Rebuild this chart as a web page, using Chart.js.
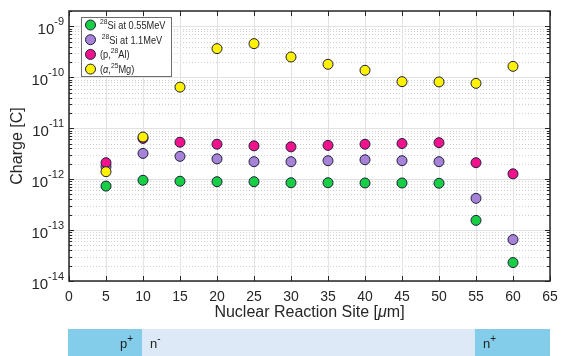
<!DOCTYPE html>
<html>
<head>
<meta charset="utf-8">
<script src="https://cdn.jsdelivr.net/npm/chart.js@4.4.0/dist/chart.umd.min.js"></script>
<style>
  html, body { margin: 0; padding: 0; background: #fff; }
  #wrap { width: 562px; height: 356px; }
</style>
</head>
<body>
<div id="wrap"><canvas id="chargeChart" width="562" height="356"></canvas></div>
<script>
// reaction sites along the device depth (um)
const sites = [5, 10, 15, 20, 25, 30, 35, 40, 45, 50, 55, 60];

// collected charge (C)
const si055 = [7.3e-13, 9.5e-13, 9.1e-13, 8.9e-13, 8.9e-13, 8.5e-13, 8.5e-13, 8.4e-13, 8.4e-13, 8.3e-13, 1.55e-13, 2.3e-14];
const si11  = [1.75e-12, 3.2e-12, 2.8e-12, 2.5e-12, 2.2e-12, 2.2e-12, 2.3e-12, 2.4e-12, 2.3e-12, 2.2e-12, 4.2e-13, 6.5e-14];
const pAl   = [2.1e-12, 6.3e-12, 5.3e-12, 4.85e-12, 4.5e-12, 4.3e-12, 4.6e-12, 4.85e-12, 5.0e-12, 5.2e-12, 2.1e-12, 1.27e-12];
const aMg   = [1.4e-12, 6.7e-12, 6.4e-11, 3.65e-10, 4.57e-10, 2.5e-10, 1.8e-10, 1.37e-10, 8.2e-11, 8.1e-11, 7.6e-11, 1.64e-10];

const xTicks = [0, 5, 10, 15, 20, 25, 30, 35, 40, 45, 50, 55, 60, 65];
const yDecades = [-14, -13, -12, -11, -10, -9];

// legend entries as rich text: [text, "sup" | "it" | ""]
const seriesLabels = [
  [["28", "sup"], ["Si at 0.55MeV", ""]],
  [[" 28", "sup"], ["Si at 1.1MeV", ""]],
  [["(p,", ""], ["28", "sup"], ["Al)", ""]],
  [["(", ""], ["\u03b1", "it"], [",", ""], ["25", "sup"], ["Mg)", ""]]
];
const seriesColors = ["#17cf45", "#a783d8", "#f2138c", "#fff200"];

// device layers under the x axis
const layerBounds = [0, 10, 55, 65];
const layerNames = [["p", "+"], ["n", "-"], ["n", "+"]];
const layerColors = ["#83cdea", "#dde9f6", "#83cdea"];

const FONT = "'Liberation Sans', Arial, sans-serif";
const INK = "#262626";

function toPoints(ys) {
  return sites.map((x, i) => ({ x: x, y: ys[i] }));
}

function fontFor(kind, size) {
  if (kind === "sup") return Math.round(size * 0.75) + "px " + FONT;
  if (kind === "it") return "italic " + size + "px " + FONT;
  return size + "px " + FONT;
}

function richWidth(ctx, parts, size) {
  let w = 0;
  parts.forEach(p => {
    ctx.font = fontFor(p[1], size);
    w += ctx.measureText(p[0]).width;
  });
  return w;
}

function drawRich(ctx, parts, x, y, size) {
  ctx.textBaseline = "middle";
  ctx.textAlign = "left";
  parts.forEach(p => {
    ctx.font = fontFor(p[1], size);
    const dy = p[1] === "sup" ? -size * 0.4 : 0;
    ctx.fillText(p[0], x, y + dy);
    x += ctx.measureText(p[0]).width;
  });
}

function crisp(v) {
  return Math.round(v) + 0.5;
}

const matlabAxes = {
  id: "matlabAxes",
  beforeDatasetsDraw(chart) {
    const ctx = chart.ctx;
    const a = chart.chartArea;
    const xs = chart.scales.x;
    const ys = chart.scales.y;
    ctx.save();
    ctx.lineWidth = 1;

    // minor grid, dotted
    ctx.strokeStyle = "#cfcfcf";
    ctx.setLineDash([1, 2]);
    yDecades.forEach(d => {
      for (let m = 2; m <= 9; m++) {
        const v = m * Math.pow(10, d);
        if (v >= ys.max) continue;
        const py = crisp(ys.getPixelForValue(v));
        ctx.beginPath();
        ctx.moveTo(a.left, py);
        ctx.lineTo(a.right, py);
        ctx.stroke();
      }
    });

    // major grid, solid
    ctx.setLineDash([]);
    ctx.strokeStyle = "#e2e2e2";
    yDecades.forEach(d => {
      const py = crisp(ys.getPixelForValue(Math.pow(10, d)));
      ctx.beginPath();
      ctx.moveTo(a.left, py);
      ctx.lineTo(a.right, py);
      ctx.stroke();
    });
    xTicks.forEach(t => {
      const px = crisp(xs.getPixelForValue(t));
      ctx.beginPath();
      ctx.moveTo(px, a.top);
      ctx.lineTo(px, a.bottom);
      ctx.stroke();
    });
    ctx.restore();
  },
  afterDatasetsDraw(chart) {
    const ctx = chart.ctx;
    const a = chart.chartArea;
    const xs = chart.scales.x;
    const ys = chart.scales.y;
    ctx.save();

    // box and inward ticks
    ctx.strokeStyle = INK;
    ctx.lineWidth = 1;
    ctx.beginPath();
    xTicks.forEach(t => {
      const px = crisp(xs.getPixelForValue(t));
      ctx.moveTo(px, a.bottom);
      ctx.lineTo(px, a.bottom - 5);
      ctx.moveTo(px, a.top);
      ctx.lineTo(px, a.top + 5);
    });
    yDecades.forEach(d => {
      for (let m = 1; m <= 9; m++) {
        const v = m * Math.pow(10, d);
        if (v > ys.max) continue;
        const py = crisp(ys.getPixelForValue(v));
        const len = m === 1 ? 5 : 3;
        ctx.moveTo(a.left, py);
        ctx.lineTo(a.left + len, py);
        ctx.moveTo(a.right, py);
        ctx.lineTo(a.right - len, py);
      }
    });
    ctx.stroke();
    ctx.lineWidth = 1.5;
    ctx.strokeRect(a.left, a.top, a.right - a.left, a.bottom - a.top);

    // tick labels
    ctx.fillStyle = INK;
    ctx.font = "14px " + FONT;
    ctx.textAlign = "center";
    ctx.textBaseline = "middle";
    xTicks.forEach(t => {
      ctx.fillText(String(t), xs.getPixelForValue(t), a.bottom + 16);
    });
    yDecades.forEach(d => {
      const py = ys.getPixelForValue(Math.pow(10, d));
      const right = a.left - 5;
      ctx.font = "11px " + FONT;
      ctx.textAlign = "right";
      const exp = String(d);
      const ew = ctx.measureText(exp).width;
      ctx.fillText(exp, right, py - 4);
      ctx.font = "15px " + FONT;
      ctx.fillText("10", right - ew, py + 3.5);
    });

    // axis titles
    const xTitle = [["Nuclear Reaction Site [", ""], ["\u03bc", "it"], ["m]", ""]];
    const tw = richWidth(ctx, xTitle, 16);
    ctx.fillStyle = INK;
    drawRich(ctx, xTitle, (a.left + a.right) / 2 - tw / 2, a.bottom + 32, 16);

    ctx.save();
    ctx.translate(18, (a.top + a.bottom) / 2);
    ctx.rotate(-Math.PI / 2);
    ctx.font = "16px " + FONT;
    ctx.textAlign = "center";
    ctx.textBaseline = "middle";
    ctx.fillText("Charge [C]", 0, 0);
    ctx.restore();

    // legend
    const lx = a.left + 12, ly = a.top + 6;
    ctx.fillStyle = "#ffffff";
    ctx.fillRect(lx, ly, 90, 59);
    ctx.strokeStyle = "#6e6e6e";
    ctx.lineWidth = 1;
    ctx.strokeRect(lx + 0.5, ly + 0.5, 90, 59);
    seriesLabels.forEach((parts, i) => {
      const cy = ly + 8 + i * 14.7;
      ctx.beginPath();
      ctx.arc(lx + 9.5, cy, 5, 0, Math.PI * 2);
      ctx.fillStyle = seriesColors[i];
      ctx.fill();
      ctx.strokeStyle = "#1e1e3c";
      ctx.stroke();
      ctx.fillStyle = INK;
      // legend text is set narrow so the longest entry fits the box
      ctx.save();
      ctx.translate(lx + 19, cy + 1);
      ctx.scale(0.84, 1);
      drawRich(ctx, parts, 0, 0, 11);
      ctx.restore();
    });

    // device layer strip
    const top = a.bottom + 48, h = chart.height - top;
    layerNames.forEach((nm, i) => {
      const x0 = xs.getPixelForValue(layerBounds[i]);
      const x1 = xs.getPixelForValue(layerBounds[i + 1]);
      ctx.fillStyle = layerColors[i];
      ctx.fillRect(x0 - 1, top, x1 - x0 + 1, h);
      ctx.fillStyle = "#222";
      const parts = [[nm[0], ""], [nm[1], "sup"]];
      const w = richWidth(ctx, parts, 13);
      const tx = i === 0 ? x1 - 10 - w : x0 + 7;
      drawRich(ctx, parts, tx, top + 15, 13);
    });

    ctx.restore();
  }
};

const pointStyle = (color, order) => ({
  backgroundColor: color,
  borderColor: "#1e1e3c",
  borderWidth: 1,
  pointRadius: 5,
  order: order
});

new Chart(document.getElementById("chargeChart"), {
  type: "scatter",
  data: {
    datasets: [
      Object.assign({ label: "28Si at 0.55MeV", data: toPoints(si055) }, pointStyle(seriesColors[0], 3)),
      Object.assign({ label: "28Si at 1.1MeV", data: toPoints(si11) }, pointStyle(seriesColors[1], 2)),
      Object.assign({ label: "(p,28Al)", data: toPoints(pAl) }, pointStyle(seriesColors[2], 1)),
      Object.assign({ label: "(alpha,25Mg)", data: toPoints(aMg) }, pointStyle(seriesColors[3], 0))
    ]
  },
  options: {
    responsive: false,
    animation: false,
    layout: { padding: { left: 0, top: 11, right: 12, bottom: 0 }, autoPadding: false },
    plugins: { legend: { display: false }, tooltip: { enabled: false } },
    scales: {
      x: {
        type: "linear", min: 0, max: 65,
        ticks: { display: false },
        grid: { display: false },
        border: { display: false },
        afterFit: s => { s.height = 75; }
      },
      y: {
        type: "logarithmic", min: 1e-14, max: 2e-9,
        ticks: { display: false },
        grid: { display: false },
        border: { display: false },
        afterFit: s => { s.width = 69; }
      }
    }
  },
  plugins: [matlabAxes]
});
</script>
</body>
</html>
